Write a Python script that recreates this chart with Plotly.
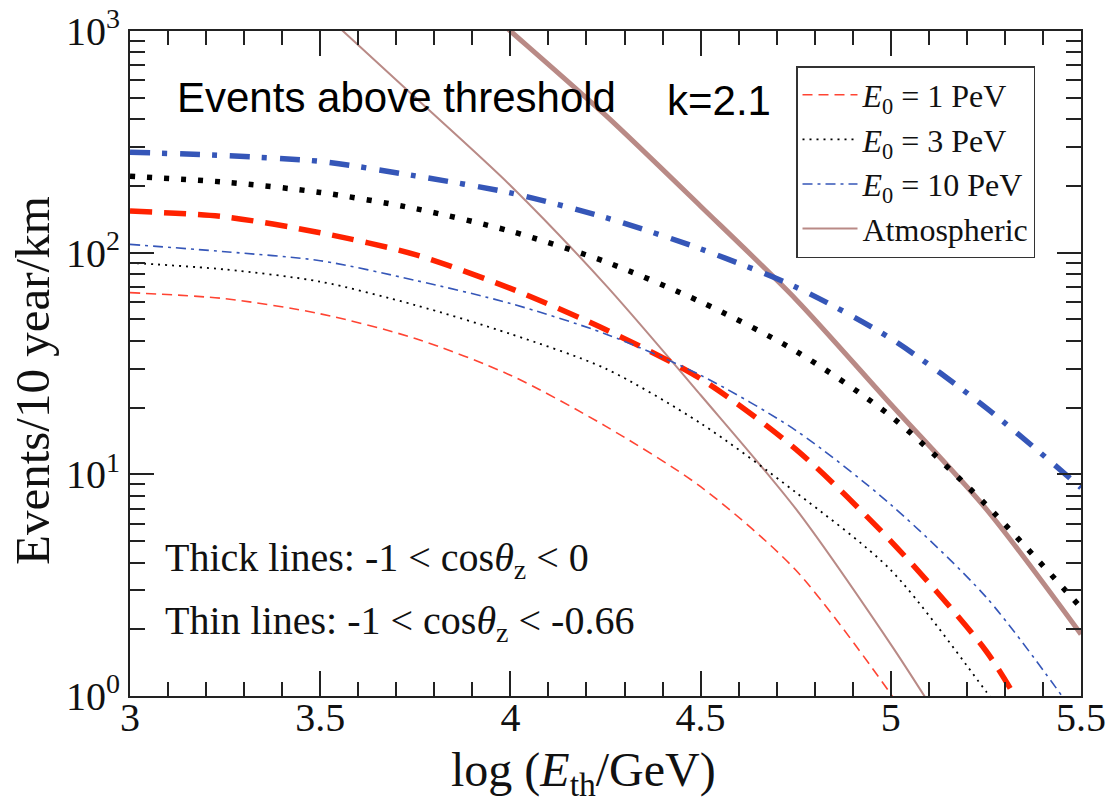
import plotly.graph_objects as go

# ---------------- data ----------------
x_full = [3.0, 3.25, 3.5, 3.75, 4.0, 4.25, 4.5, 4.75, 5.0, 5.25, 5.5]

# E0 = 1 PeV
x_1pev_thick = [3.0, 3.25, 3.5, 3.75, 4.0, 4.25, 4.5, 4.75, 5.0, 5.25, 5.35]
y_1pev_thick = [154, 145, 123, 98, 69, 45, 27, 13, 5.0, 1.6, 0.85]
x_1pev_thin = [3.0, 3.25, 3.5, 3.75, 4.0, 4.25, 4.5, 4.75, 5.0, 5.05]
y_1pev_thin = [66, 62, 53, 41, 28, 16.5, 8.8, 3.7, 1.02, 0.75]

# E0 = 3 PeV
x_3pev_thick = x_full
y_3pev_thick = [221, 208, 187, 158, 125, 91, 60, 36, 18.3, 7.3, 2.5]
x_3pev_thin = [3.0, 3.25, 3.5, 3.75, 4.0, 4.25, 4.5, 4.75, 5.0, 5.25, 5.3]
y_3pev_thin = [90, 84, 74, 58, 43, 30, 17, 8.3, 3.7, 1.05, 0.8]

# E0 = 10 PeV
x_10pev_thick = x_full
y_10pev_thick = [284, 274, 258, 222, 186, 144, 104, 70, 41, 20, 8.7]
x_10pev_thin = [3.0, 3.25, 3.5, 3.75, 4.0, 4.25, 4.5, 4.75, 5.0, 5.25, 5.45, 5.5]
y_10pev_thin = [109, 101, 92, 75, 59, 43, 28, 15.8, 7.3, 2.8, 1.0, 0.75]

# Atmospheric
x_atm_thick = [3.95, 4.0, 4.25, 4.5, 4.75, 5.0, 5.25, 5.5]
y_atm_thick = [1190, 1000, 417, 162, 61.7, 20.7, 7.0, 1.9]
x_atm_thin = [3.5, 3.75, 4.0, 4.25, 4.5, 4.75, 5.0, 5.1]
y_atm_thin = [1242, 501, 201, 71.6, 22.8, 7.0, 1.71, 0.93]

legend_names = ["<i>E</i><sub>0</sub> = 1 PeV", "<i>E</i><sub>0</sub> = 3 PeV",
                "<i>E</i><sub>0</sub> = 10 PeV", "Atmospheric"]

x_title = "log (<i>E</i><sub>th</sub>/GeV)"
y_title = "Events/10 year/km"

y_tickvals = [1, 10, 100, 1000]
y_ticktext = ["10<sup>0</sup>", "10<sup>1</sup>", "10<sup>2</sup>", "10<sup>3</sup>"]
y_minor = [m * 10 ** d for d in range(3) for m in range(2, 10)]

# ---------------- styles ----------------
RED = "#ff2200"
RED_THIN = "#ff4433"
BLUE = "#3556b8"
BLACK = "#000000"
ATM = "#b98a86"
SERIF = "Liberation Serif"
SANS = "Liberation Sans"

fig = go.Figure()

def add(x, y, color, width, dash, name=None, show=False, rank=1000):
    fig.add_trace(go.Scatter(
        x=x, y=y, mode="lines", name=name, showlegend=show, legendrank=rank,
        line=dict(color=color, width=width, dash=dash, shape="spline", smoothing=0.8),
        hoverinfo="skip"))

# thick lines (-1 < cos < 0) and thin lines (-1 < cos < -0.66)
add(x_atm_thick, y_atm_thick, ATM, 5, "solid")
add(x_atm_thin, y_atm_thin, ATM, 2, "solid", legend_names[3], True, 1004)
add(x_1pev_thick, y_1pev_thick, RED, 5.5, "22px,12px")
add(x_3pev_thick, y_3pev_thick, BLACK, 5.5, "5px,12px")
add(x_10pev_thick, y_10pev_thick, BLUE, 5.5, "20px,12px,5px,13px")
add(x_1pev_thin, y_1pev_thin, RED_THIN, 1.6, "10px,6px", legend_names[0], True, 1001)
add(x_3pev_thin, y_3pev_thin, BLACK, 1.8, "2px,5px", legend_names[1], True, 1002)
add(x_10pev_thin, y_10pev_thin, BLUE, 1.6, "10px,5px,3px,5px", legend_names[2], True, 1003)

axis_common = dict(
    showline=True, linewidth=2, linecolor="#222", mirror="allticks",
    ticks="inside", tickwidth=1.5, tickcolor="#222", showgrid=False, zeroline=False,
    tickfont=dict(family=SERIF, size=40, color="#111"),
)

fig.update_xaxes(
    range=[3, 5.5], tick0=3, dtick=0.5, ticklen=25,
    minor=dict(ticks="inside", dtick=0.1, ticklen=14, tickwidth=1.5, tickcolor="#222", showgrid=False),
    ticklabelstandoff=-15,
    **axis_common)

fig.update_yaxes(
    type="log", range=[0, 3], tickmode="array", tickvals=y_tickvals, ticktext=y_ticktext,
    ticklen=24,
    minor=dict(ticks="inside", tickmode="array", tickvals=y_minor, ticklen=15, tickwidth=1.5,
               tickcolor="#222", showgrid=False),
    ticklabelstandoff=0,
    **axis_common)

def px_x(p):
    return (p - 130) / 951

def px_y(p):
    return (696 - p) / 665

fig.update_layout(
    width=1111, height=799,
    margin=dict(l=130, r=30, t=31, b=103, autoexpand=False),
    paper_bgcolor="white", plot_bgcolor="white",
    legend=dict(x=px_x(796), y=px_y(66), xanchor="left", yanchor="top",
                font=dict(family=SERIF, size=32, color="#111"),
                bordercolor="#333", borderwidth=1.5, bgcolor="white",
                itemwidth=55, tracegroupgap=0),
    annotations=[
        dict(text=x_title, x=px_x(583), y=px_y(741), xref="paper", yref="paper",
             xanchor="center", yanchor="top", showarrow=False,
             font=dict(family=SERIF, size=48, color="#111")),
        dict(text=y_title, x=px_x(32), y=px_y(381), xref="paper", yref="paper",
             xanchor="center", yanchor="middle", showarrow=False, textangle=-90,
             font=dict(family=SERIF, size=49, color="#111")),
        dict(text="Events above threshold", x=px_x(175), y=px_y(97), xref="paper", yref="paper",
             xanchor="left", yanchor="middle", showarrow=False,
             font=dict(family=SANS, size=42, color="black")),
        dict(text="k=2.1", x=px_x(665), y=px_y(100), xref="paper", yref="paper",
             xanchor="left", yanchor="middle", showarrow=False,
             font=dict(family=SANS, size=42, color="black")),
        dict(text="Thick lines: -1 &lt; cos<i>θ</i><sub>z</sub> &lt; 0", x=px_x(163),
             y=px_y(560), xref="paper", yref="paper",
             xanchor="left", yanchor="middle", showarrow=False,
             font=dict(family=SERIF, size=40, color="#111")),
        dict(text="Thin lines: -1 &lt; cos<i>θ</i><sub>z</sub> &lt; -0.66", x=px_x(163),
             y=px_y(623), xref="paper", yref="paper",
             xanchor="left", yanchor="middle", showarrow=False,
             font=dict(family=SERIF, size=40, color="#111")),
    ],
)

fig.write_html("out.html")
